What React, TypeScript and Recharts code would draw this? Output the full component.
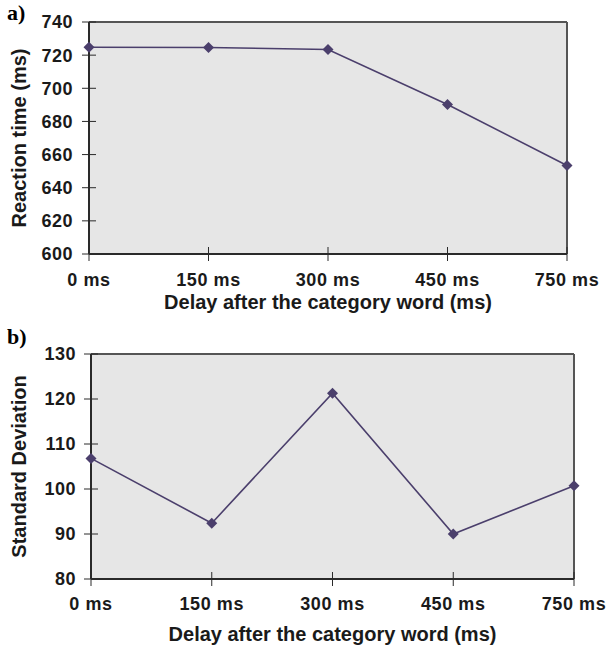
import React from 'react';
import { LineChart, Line, XAxis, YAxis, CartesianGrid, ReferenceLine } from 'recharts';

// delay conditions (category axis)
const delays = ['0 ms', '150 ms', '300 ms', '450 ms', '750 ms'];
// panel a: mean reaction time (ms)
const reactionTime = [724.8, 724.6, 723.4, 690.2, 653.4];
// panel b: standard deviation
const stdDeviation = [106.8, 92.4, 121.3, 90.0, 100.7];

const rtTicks = [600, 620, 640, 660, 680, 700, 720, 740];
const sdTicks = [80, 90, 100, 110, 120, 130];

const rtData = delays.map((d, i) => ({ delay: d, value: reactionTime[i] }));
const sdData = delays.map((d, i) => ({ delay: d, value: stdDeviation[i] }));

const LINE = '#4b3f6c';
const AXIS = '#2a2a2a';
const FONT = '"Liberation Sans", Arial, sans-serif';

const Diamond = (props: any) => {
  const { cx, cy, index } = props;
  if (cx == null || cy == null) return null;
  return (
    <polygon
      key={`dot-${index}`}
      points={`${cx},${cy - 5.5} ${cx + 5.5},${cy} ${cx},${cy + 5.5} ${cx - 5.5},${cy}`}
      fill={LINE}
    />
  );
};

const YTick = (props: any) => {
  const { x, y, payload, gap } = props;
  return (
    <g>
      <line x1={x - 7} x2={x + 7} y1={y} y2={y} stroke={AXIS} strokeWidth={1} />
      <text x={x - gap} y={y} dy="0.355em" textAnchor="end" fontFamily={FONT} fontWeight="bold" fontSize={18} letterSpacing={0.5} fill="#1a1a1a">
        {payload.value}
      </text>
    </g>
  );
};

const XTick = (props: any) => {
  const { x, y, payload, gap } = props;
  return (
    <g>
      <line x1={x} x2={x} y1={y - 7} y2={y + 7} stroke={AXIS} strokeWidth={1} />
      <text x={x} y={y + gap} dy="0.355em" textAnchor="middle" fontFamily={FONT} fontWeight="bold" fontSize={18} letterSpacing={0.6} fill="#1a1a1a">
        {payload.value}
      </text>
    </g>
  );
};

interface PanelProps {
  data: { delay: string; value: number }[];
  ticks: number[];
  yTitle: string;
  letter: string;
  top: number;
  plotTop: number;
  left: number;
  right: number;
  height: number;
  xAxisHeight: number;
  xTitleDy: number;
  yGap: number;
  xGap: number;
}

const Panel: React.FC<PanelProps> = ({ data, ticks, yTitle, letter, top, plotTop, left, right, height, xAxisHeight, xTitleDy, yGap, xGap }) => {
  const lo = ticks[0];
  const hi = ticks[ticks.length - 1];
  return (
    <div style={{ position: 'absolute', left: 0, top, width: 615, height }}>
      <div style={{ position: 'absolute', left: 7, top: 2, fontFamily: '"Liberation Serif", "Times New Roman", serif', fontWeight: 'bold', fontSize: 22, lineHeight: '22px' }}>
        {letter}
      </div>
      <LineChart width={615} height={height} data={data} margin={{ top: plotTop, right, left: 0, bottom: 0 }}>
        <CartesianGrid fill="#e6e6e6" stroke="none" horizontal={false} vertical={false} />
        <XAxis
          dataKey="delay"
          height={xAxisHeight}
          tickSize={0}
          tickMargin={0}
          tickLine={false}
          axisLine={{ stroke: AXIS, strokeWidth: 2 }}
          interval={0}
          tick={<XTick gap={xGap} />}
          label={{ value: 'Delay after the category word (ms)', position: 'center', dy: xTitleDy, style: { fontFamily: FONT, fontWeight: 'bold', fontSize: 20, fill: '#1a1a1a' } }}
        />
        <YAxis
          type="number"
          domain={[lo, hi]}
          ticks={ticks}
          width={left}
          tickSize={0}
          tickMargin={0}
          tickLine={false}
          axisLine={{ stroke: AXIS, strokeWidth: 2 }}
          interval={0}
          tick={<YTick gap={yGap} />}
          label={{ value: yTitle, angle: -90, position: 'center', dx: 19 - left / 2, style: { fontFamily: FONT, fontWeight: 'bold', fontSize: 20, fill: '#1a1a1a' } }}
        />
        <ReferenceLine y={hi} stroke="#555" strokeWidth={2} />
        <ReferenceLine x="750 ms" stroke="#555" strokeWidth={2} />
        <Line
          type="linear"
          dataKey="value"
          stroke={LINE}
          strokeWidth={1.6}
          dot={<Diamond />}
          activeDot={false}
          isAnimationActive={false}
        />
      </LineChart>
    </div>
  );
};

export default function App() {
  return (
    <div style={{ position: 'absolute', left: 0, top: 0, width: 615, height: 648, background: '#fff' }}>
      <Panel data={rtData} ticks={rtTicks} yTitle="Reaction time (ms)" letter="a)" top={0} plotTop={22} left={89} right={48} height={324} xAxisHeight={70} xTitleDy={13} yGap={16} xGap={26} />
      <Panel data={sdData} ticks={sdTicks} yTitle="Standard Deviation" letter="b)" top={324} plotTop={30} left={91} right={41} height={324} xAxisHeight={69} xTitleDy={20} yGap={15} xGap={25} />
    </div>
  );
}
